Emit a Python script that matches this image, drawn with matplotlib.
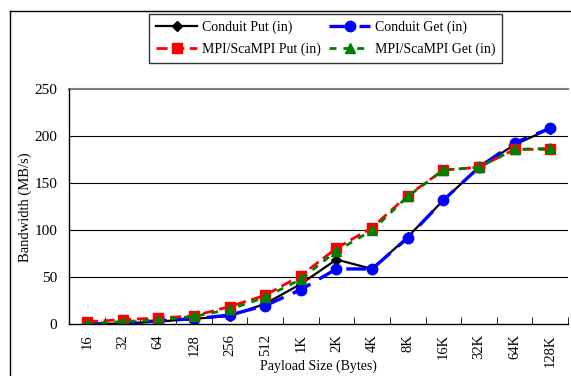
import numpy as np
import matplotlib
matplotlib.use("Agg")
import matplotlib.pyplot as plt
from matplotlib.lines import Line2D

plt.rcParams['font.family'] = ['Liberation Serif', 'DejaVu Serif']

sizes = ['16', '32', '64', '128', '256', '512', '1K', '2K', '4K', '8K',
         '16K', '32K', '64K', '128K']

conduit_put = [0.5, 1, 3, 6, 9, 22, 43, 69, 59, 93, 132, 167, 191, 208]
conduit_get = [0.5, 1, 4, 6, 10, 20, 37, 59, 59, 92, 132, 167, 193, 208.5]
mpi_put = [3, 5, 7, 9, 19, 31, 52, 81, 103, 137, 164, 167, 186, 186]
mpi_get = [1, 3, 5, 8.5, 16, 29, 48, 78, 100, 136, 164, 167, 186, 187]


def draw_chart():
    fig = plt.figure(figsize=(5.71, 3.76), dpi=100)
    ax = fig.add_axes([0.121, 0.137, 0.874, 0.626])

    x = np.arange(len(sizes))

    h_put, = ax.plot(x, conduit_put, color='black', lw=1.6, marker='D',
                     ms=5, label='Conduit Put (in)')
    h_get, = ax.plot(x, conduit_get, color='blue', lw=2.4, ls=(0, (6, 3)),
                     marker='o', ms=7.5, label='Conduit Get (in)')
    h_mput, = ax.plot(x, mpi_put, color='red', lw=2.0, ls=(0, (4, 2)),
                      marker='s', ms=7, label='MPI/ScaMPI Put (in)')
    h_mget, = ax.plot(x, mpi_get, color='green', lw=2.0, ls=(0, (2.5, 2.5)),
                      marker='^', ms=7.5, label='MPI/ScaMPI Get (in)')

    ax.set_xlim(-0.5, len(sizes) - 0.5)
    ax.set_ylim(0, 250)
    ax.set_yticks(range(0, 251, 50))
    ax.set_xticks(x)
    ax.set_xticklabels(sizes, rotation=90, fontsize=10.5)
    ax.set_xticks(np.arange(-0.5, len(sizes)), minor=True)
    ax.tick_params(axis='x', which='major', length=0, pad=7)
    ax.tick_params(axis='x', which='minor', length=5, direction='in',
                   color='black')
    ax.tick_params(axis='y', length=0, labelsize=11, pad=8.5)

    # horizontal grid, the top one lighter like the plot area edge
    for yv in range(50, 250, 50):
        ax.axhline(yv, color='black', lw=0.8, zorder=0)
    ax.axhline(250, color='gray', lw=1.5, zorder=0, clip_on=False)

    ax.spines['top'].set_visible(False)
    ax.spines['right'].set_visible(False)
    ax.spines['left'].set_linewidth(1.0)
    ax.spines['bottom'].set_linewidth(1.0)

    ax.set_xlabel('Payload Size (Bytes)', fontsize=10, va='center')
    ax.xaxis.set_label_coords(0.5, -0.176)
    ax.set_ylabel('Bandwidth (MB/s)', fontsize=10.5, va='center')
    ax.yaxis.set_label_coords(-0.088, 0.5)

    # legend fills column by column, so order gives two rows Put/Get
    handles = [h_put, h_mput, h_get, h_mget]
    leg = fig.legend(handles=handles, labels=[h.get_label() for h in handles],
                     loc='upper center', bbox_to_anchor=(0.57, 0.963),
                     ncol=2, fontsize=10, frameon=True, fancybox=False,
                     edgecolor='black', handlelength=3.0, columnspacing=0.6,
                     handletextpad=0.3, borderpad=0.5, labelspacing=0.6,
                     borderaxespad=0)
    leg.get_frame().set_linewidth(1.0)

    # outer chart frame
    fig.add_artist(Line2D([10 / 571, 1], [1 - 11 / 376, 1 - 11 / 376],
                          color='black', lw=1.0))
    fig.add_artist(Line2D([10 / 571, 10 / 571], [0, 1 - 11 / 376],
                          color='black', lw=1.0))

    fig.savefig('out.png', dpi=100)


if __name__ == "__main__":
    draw_chart()
